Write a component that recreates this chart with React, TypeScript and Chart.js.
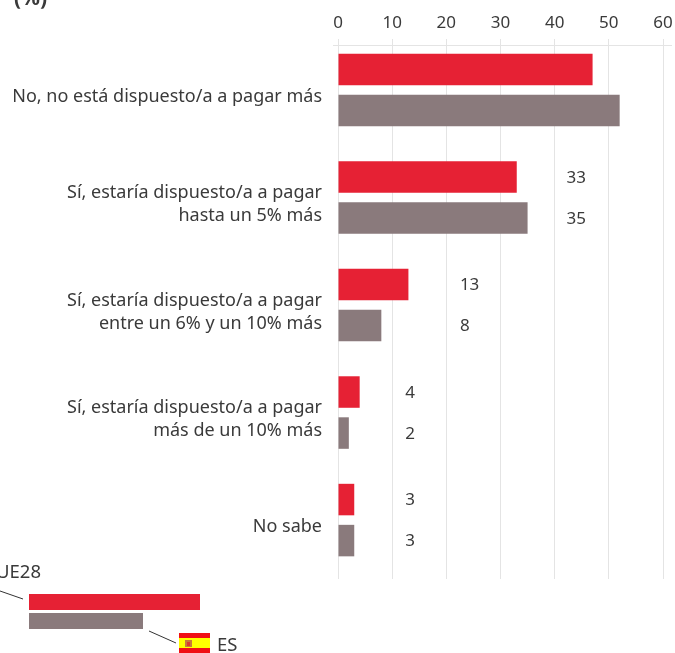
import React, { useEffect, useRef } from "react";
import { Chart, registerables } from "chart.js";

Chart.register(...registerables);

const categories: string[][] = [
  ["No, no está dispuesto/a a pagar más"],
  ["Sí, estaría dispuesto/a a pagar", "hasta un 5% más"],
  ["Sí, estaría dispuesto/a a pagar", "entre un 6% y un 10% más"],
  ["Sí, estaría dispuesto/a a pagar", "más de un 10% más"],
  ["No sabe"],
];
const ue28Values = [47, 33, 13, 4, 3];
const esValues = [52, 35, 8, 2, 3];
// Column (in axis units) where each group's printed values start; the first group prints none.
const labelColumns: (number | null)[] = [null, 42.2, 22.5, 12.4, 12.4];
const xTicks = [0, 10, 20, 30, 40, 50, 60];

const RED = "#e62134";
const GREY = "#8a7a7c";
const TEXT = "#3a3a3a";
const FONT = '"Noto Sans", sans-serif';

const extras = {
  id: "extras",
  afterDraw(chart: any) {
    const { ctx, scales } = chart;
    const xs = scales.x;
    const ys = scales.y;
    ctx.save();
    // top rule
    ctx.strokeStyle = "#e4e4e4";
    ctx.lineWidth = 1;
    ctx.beginPath();
    ctx.moveTo(xs.left - 5, ys.top + 0.5);
    ctx.lineTo(xs.right + 9, ys.top + 0.5);
    ctx.stroke();

    // printed values
    ctx.fillStyle = TEXT;
    ctx.font = `17px ${FONT}`;
    ctx.textAlign = "left";
    ctx.textBaseline = "middle";
    chart.data.datasets.forEach((ds: any, di: number) => {
      const meta = chart.getDatasetMeta(di);
      ds.data.forEach((pt: any, i: number) => {
        const col = labelColumns[i];
        if (col == null) return;
        ctx.fillText(String(pt.x), xs.getPixelForValue(col), meta.data[i].y + 1);
      });
    });

    // title fragment
    ctx.font = `bold 21px ${FONT}`;
    ctx.textBaseline = "alphabetic";
    ctx.fillText("(%)", 14, 5);

    // legend
    ctx.fillStyle = RED;
    ctx.fillRect(29, 594, 171, 16);
    ctx.fillStyle = GREY;
    ctx.fillRect(29, 613, 114, 16);
    ctx.strokeStyle = "#333333";
    ctx.beginPath();
    ctx.moveTo(0, 591);
    ctx.lineTo(23, 599);
    ctx.moveTo(149, 631);
    ctx.lineTo(176, 643);
    ctx.stroke();
    // flag
    ctx.fillStyle = "#f00f14";
    ctx.fillRect(179, 633, 31, 20);
    ctx.fillStyle = "#ffff00";
    ctx.fillRect(179, 638, 31, 10);
    ctx.fillStyle = "#c8783c";
    ctx.fillRect(185, 640, 7, 7);
    ctx.fillStyle = "#d83a30";
    ctx.fillRect(187, 642, 3, 4);

    ctx.fillStyle = TEXT;
    ctx.font = `18.5px ${FONT}`;
    ctx.textBaseline = "middle";
    ctx.fillText("UE28", -4, 573);
    ctx.fillText("ES", 217, 646);
    ctx.restore();
  },
};

export default function App() {
  const ref = useRef<HTMLCanvasElement>(null);
  useEffect(() => {
    const chart = new Chart(ref.current!, {
      type: "bar",
      data: {
        datasets: [
          {
            label: "UE28",
            data: ue28Values.map((x, y) => ({ x, y })),
            backgroundColor: RED,
            categoryPercentage: 0.763,
            barPercentage: 0.768,
          },
          {
            label: "ES",
            data: esValues.map((x, y) => ({ x, y })),
            backgroundColor: GREY,
            categoryPercentage: 0.763,
            barPercentage: 0.768,
          },
        ],
      } as any,
      options: {
        indexAxis: "y",
        animation: false,
        responsive: false,
        layout: { padding: { left: 0, top: 0, right: 12, bottom: 74 } },
        plugins: { legend: { display: false }, tooltip: { enabled: false } },
        scales: {
          x: {
            type: "linear",
            position: "top",
            min: 0,
            max: 60,
            afterBuildTicks: (s: any) => {
              s.ticks = xTicks.map((value) => ({ value }));
            },
            afterFit: (s: any) => {
              s.height = 45;
              s.paddingLeft = 0;
              s.paddingRight = 0;
            },
            grid: { color: "#e4e4e4", lineWidth: 1, tickLength: 6 },
            border: { display: false },
            ticks: {
              color: TEXT,
              font: { family: FONT, size: 17 },
              padding: 6,
              maxRotation: 0,
            },
          },
          y: {
            type: "linear",
            reverse: true,
            offset: false,
            bounds: "data",
            min: -0.418,
            max: 4.548,
            afterBuildTicks: (s: any) => {
              s.ticks = categories.map((_, value) => ({ value }));
            },
            afterFit: (s: any) => {
              s.width = 338;
              s.paddingTop = 0;
              s.paddingBottom = 0;
            },
            grid: { display: false, offset: false },
            border: { display: false },
            ticks: {
              autoSkip: false,
              color: TEXT,
              font: { family: FONT, size: 18, lineHeight: 1.28 },
              padding: 8,
              labelOffset: 7,
              callback: (v: any) => categories[v] ?? "",
            },
          },
        },
      } as any,
      plugins: [extras],
    });
    return () => chart.destroy();
  }, []);
  return (
    <div style={{ position: "absolute", left: 0, top: 0, width: 675, height: 653 }}>
      <canvas ref={ref} width={675} height={653} style={{ display: "block" }} />
    </div>
  );
}
